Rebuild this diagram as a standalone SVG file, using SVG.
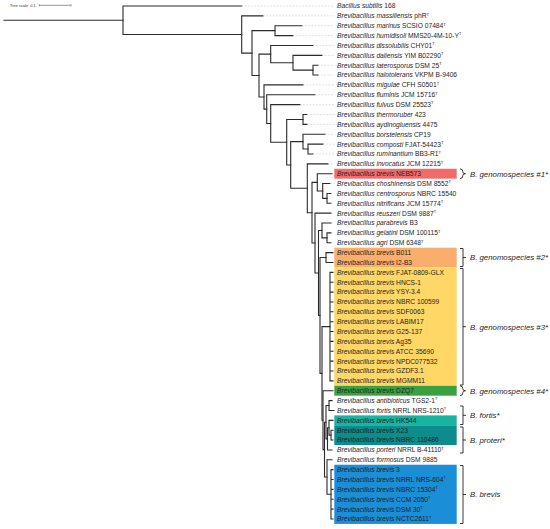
<svg xmlns="http://www.w3.org/2000/svg" width="550" height="529" viewBox="0 0 550 529">
<style>
.e{fill:none;stroke:#2b2b2b;stroke-width:1.1;stroke-linecap:square}
.l{fill:none;stroke:#c4c4c4;stroke-width:0.6;stroke-dasharray:1.6 1.6}
.t{font-family:"Liberation Sans",Arial,sans-serif;font-size:6.7px;fill:#1e1e1e}
.i{font-style:italic}
.s{font-size:4px}
.g{font-family:"Liberation Sans",Arial,sans-serif;font-size:7.8px;font-style:italic;fill:#1e1e1e}
.b{fill:none;stroke:#222;stroke-width:0.9}
.sc{font-family:"Liberation Sans",Arial,sans-serif;font-size:3.9px;fill:#333}
</style>
<rect width="550" height="529" fill="#fff"/>
<g id="scale">
<text class="sc" x="10" y="6.7">Tree scale: 0.1</text>
<path d="M39.3 5.3 H71 M39.3 4.3 V6.3 M71 4.3 V6.3" fill="none" stroke="#555" stroke-width="0.6"/>
</g>
<g id="highlights">
<rect x="334.3" y="168.78" width="122.4" height="9.87" fill="#F26B6B"/>
<rect x="334.3" y="247.7" width="122.4" height="19.73" fill="#FAAE6B"/>
<rect x="334.3" y="267.43" width="122.4" height="118.38" fill="#FED766"/>
<rect x="334.3" y="385.81" width="122.4" height="9.87" fill="#3AA142"/>
<rect x="334.3" y="415.4" width="122.4" height="9.87" fill="#17B3A3"/>
<rect x="334.3" y="425.27" width="122.4" height="19.73" fill="#0E8B8B"/>
<rect x="334.3" y="464.73" width="122.4" height="59.19" fill="#1B8ED8"/>
</g>
<g id="connectors">
<path class="e" d="M4 20.25 H123"/>
<path class="e" d="M241.7 6 H123 V34.49 H241.7"/>
<path class="e" d="M263 15.87 H241.7 V53.11 H252"/>
<path class="e" d="M275 30.67 H252 V75.55 H259"/>
<path class="e" d="M302 25.73 H275 V35.6 H293"/>
<path class="e" d="M270.7 54.1 H259 V97 H264"/>
<path class="e" d="M313 45.46 H270.7 V62.73 H293"/>
<path class="e" d="M322 55.33 H293 V70.13 H313"/>
<path class="e" d="M318 65.19 H313 V75.06 H318"/>
<path class="e" d="M303 84.92 H264 V109.11 H266.7"/>
<path class="e" d="M315 94.79 H266.7 V123.43 H270.7"/>
<path class="e" d="M300 104.65 H270.7 V142.2 H286.7"/>
<path class="e" d="M303 119.45 H286.7 V164.96 H290.7"/>
<path class="e" d="M307 114.52 H303 V124.38 H307"/>
<path class="e" d="M303 141.65 H290.7 V188.27 H307.3"/>
<path class="e" d="M325 134.25 H303 V149.05 H308"/>
<path class="e" d="M323 144.11 H308 V153.98 H313"/>
<path class="e" d="M328 163.84 H307.3 V212.7 H312"/>
<path class="e" d="M317.3 182.34 H312 V243.07 H315"/>
<path class="e" d="M332 173.71 H317.3 V190.97 H322.7"/>
<path class="e" d="M330 183.57 H322.7 V198.37 H327"/>
<path class="e" d="M331 193.44 H327 V203.3 H331"/>
<path class="e" d="M331 213.17 H315 V272.97 H318.5"/>
<path class="e" d="M322 230.43 H318.5 V315.5 H320"/>
<path class="e" d="M331 223.03 H322 V237.83 H327"/>
<path class="e" d="M331 232.9 H327 V242.76 H331"/>
<path class="e" d="M326 257.56 H320 V373.4 H322"/>
<path class="e" d="M333 252.63 H326 V262.49 H333"/>
<path class="e" d="M330 326.6 H322 V420.2 H323"/>
<path class="e" d="M330 272.36 V380.87 M330 272.36 H333 M330 282.22 H333 M330 292.09 H333 M330 301.95 H333 M330 311.82 H333 M330 321.68 H333 M330 331.55 H333 M330 341.41 H333 M330 351.28 H333 M330 361.14 H333 M330 371.01 H333 M330 380.87 H333"/>
<path class="e" d="M333 390.74 H323 V449.6 H324.5"/>
<path class="e" d="M326 422.2 H324.5 V477.05 H327"/>
<path class="e" d="M329 405.5 H326 V438.83 H327.5"/>
<path class="e" d="M332 400.6 H329 V410.47 H334"/>
<path class="e" d="M329 427.73 H327.5 V449.93 H332"/>
<path class="e" d="M333 420.33 H329 V435.13 H331"/>
<path class="e" d="M333 430.2 H331 V440.06 H333"/>
<path class="e" d="M332 459.79 H327 V494.3 H331"/>
<path class="e" d="M331 469.66 V518.98 M331 469.66 H333 M331 479.52 H333 M331 489.39 H333 M331 499.25 H333 M331 509.12 H333 M331 518.98 H333"/>
</g>
<g id="leaves">
<g id="n1"><path class="l" d="M241.7 6 H334.3"/><text class="t" x="337" y="8.4"><tspan class="i">Bacillus subtilis</tspan> 168</text></g>
<g id="n2"><path class="l" d="M263 15.87 H334.3"/><text class="t" x="337" y="18.27"><tspan class="i">Brevibacillus massiliensis</tspan> phR<tspan class="s" dy="-2.6">T</tspan></text></g>
<g id="n3"><path class="l" d="M302 25.73 H334.3"/><text class="t" x="337" y="28.13"><tspan class="i">Brevibacillus marinus</tspan> SCSIO 07484<tspan class="s" dy="-2.6">T</tspan></text></g>
<g id="n4"><path class="l" d="M293 35.6 H334.3"/><text class="t" x="337" y="38"><tspan class="i">Brevibacillus humidisoli</tspan> MMS20-4M-10-Y<tspan class="s" dy="-2.6">T</tspan></text></g>
<g id="n5"><path class="l" d="M313 45.46 H334.3"/><text class="t" x="337" y="47.86"><tspan class="i">Brevibacillus dissolubilis</tspan> CHY01<tspan class="s" dy="-2.6">T</tspan></text></g>
<g id="n6"><path class="l" d="M322 55.33 H334.3"/><text class="t" x="337" y="57.73"><tspan class="i">Brevibacillus daliensis</tspan> YIM B02290<tspan class="s" dy="-2.6">T</tspan></text></g>
<g id="n7"><path class="l" d="M318 65.19 H334.3"/><text class="t" x="337" y="67.59"><tspan class="i">Brevibacillus laterosporus</tspan> DSM 25<tspan class="s" dy="-2.6">T</tspan></text></g>
<g id="n8"><path class="l" d="M318 75.06 H334.3"/><text class="t" x="337" y="77.46"><tspan class="i">Brevibacillus halotolerans</tspan> VKPM B-9406</text></g>
<g id="n9"><path class="l" d="M303 84.92 H334.3"/><text class="t" x="337" y="87.32"><tspan class="i">Brevibacillus migulae</tspan> CFH S0501<tspan class="s" dy="-2.6">T</tspan></text></g>
<g id="n10"><path class="l" d="M315 94.79 H334.3"/><text class="t" x="337" y="97.19"><tspan class="i">Brevibacillus fluminis</tspan> JCM 15716<tspan class="s" dy="-2.6">T</tspan></text></g>
<g id="n11"><path class="l" d="M300 104.65 H334.3"/><text class="t" x="337" y="107.05"><tspan class="i">Brevibacillus fulvus</tspan> DSM 25523<tspan class="s" dy="-2.6">T</tspan></text></g>
<g id="n12"><path class="l" d="M307 114.52 H334.3"/><text class="t" x="337" y="116.92"><tspan class="i">Brevibacillus thermoruber</tspan> 423</text></g>
<g id="n13"><path class="l" d="M307 124.38 H334.3"/><text class="t" x="337" y="126.78"><tspan class="i">Brevibacillus aydinogluensis</tspan> 4475</text></g>
<g id="n14"><path class="l" d="M325 134.25 H334.3"/><text class="t" x="337" y="136.65"><tspan class="i">Brevibacillus borstelensis</tspan> CP19</text></g>
<g id="n15"><path class="l" d="M323 144.11 H334.3"/><text class="t" x="337" y="146.51"><tspan class="i">Brevibacillus composti</tspan> FJAT-54423<tspan class="s" dy="-2.6">T</tspan></text></g>
<g id="n16"><path class="l" d="M313 153.98 H334.3"/><text class="t" x="337" y="156.38"><tspan class="i">Brevibacillus ruminantium</tspan> BB3-R1<tspan class="s" dy="-2.6">T</tspan></text></g>
<g id="n17"><path class="l" d="M328 163.84 H334.3"/><text class="t" x="337" y="166.24"><tspan class="i">Brevibacillus invocatus</tspan> JCM 12215<tspan class="s" dy="-2.6">T</tspan></text></g>
<g id="n18"><text class="t" x="337" y="176.11"><tspan class="i">Brevibacillus brevis</tspan> NEB573</text></g>
<g id="n19"><path class="l" d="M330 183.57 H334.3"/><text class="t" x="337" y="185.97"><tspan class="i">Brevibacillus choshinensis</tspan> DSM 8552<tspan class="s" dy="-2.6">T</tspan></text></g>
<g id="n20"><path class="l" d="M331 193.44 H334.3"/><text class="t" x="337" y="195.84"><tspan class="i">Brevibacillus centrosporus</tspan> NBRC 15540</text></g>
<g id="n21"><path class="l" d="M331 203.3 H334.3"/><text class="t" x="337" y="205.7"><tspan class="i">Brevibacillus nitrificans</tspan> JCM 15774<tspan class="s" dy="-2.6">T</tspan></text></g>
<g id="n22"><path class="l" d="M331 213.17 H334.3"/><text class="t" x="337" y="215.57"><tspan class="i">Brevibacillus reuszeri</tspan> DSM 9887<tspan class="s" dy="-2.6">T</tspan></text></g>
<g id="n23"><path class="l" d="M331 223.03 H334.3"/><text class="t" x="337" y="225.43"><tspan class="i">Brevibacillus parabrevis</tspan> B3</text></g>
<g id="n24"><path class="l" d="M331 232.9 H334.3"/><text class="t" x="337" y="235.3"><tspan class="i">Brevibacillus gelatini</tspan> DSM 100115<tspan class="s" dy="-2.6">T</tspan></text></g>
<g id="n25"><path class="l" d="M331 242.76 H334.3"/><text class="t" x="337" y="245.16"><tspan class="i">Brevibacillus agri</tspan> DSM 6348<tspan class="s" dy="-2.6">T</tspan></text></g>
<g id="n26"><text class="t" x="337" y="255.03"><tspan class="i">Brevibacillus brevis</tspan> B011</text></g>
<g id="n27"><text class="t" x="337" y="264.89"><tspan class="i">Brevibacillus brevis</tspan> I2-B3</text></g>
<g id="n28"><text class="t" x="337" y="274.76"><tspan class="i">Brevibacillus brevis</tspan> FJAT-0809-GLX</text></g>
<g id="n29"><text class="t" x="337" y="284.62"><tspan class="i">Brevibacillus brevis</tspan> HNCS-1</text></g>
<g id="n30"><text class="t" x="337" y="294.49"><tspan class="i">Brevibacillus brevis</tspan> YSY-3.4</text></g>
<g id="n31"><text class="t" x="337" y="304.35"><tspan class="i">Brevibacillus brevis</tspan> NBRC 100599</text></g>
<g id="n32"><text class="t" x="337" y="314.22"><tspan class="i">Brevibacillus brevis</tspan> SDF0063</text></g>
<g id="n33"><text class="t" x="337" y="324.08"><tspan class="i">Brevibacillus brevis</tspan> LABIM17</text></g>
<g id="n34"><text class="t" x="337" y="333.95"><tspan class="i">Brevibacillus brevis</tspan> G25-137</text></g>
<g id="n35"><text class="t" x="337" y="343.81"><tspan class="i">Brevibacillus brevis</tspan> Ag35</text></g>
<g id="n36"><text class="t" x="337" y="353.68"><tspan class="i">Brevibacillus brevis</tspan> ATCC 35690</text></g>
<g id="n37"><text class="t" x="337" y="363.54"><tspan class="i">Brevibacillus brevis</tspan> NPDC077532</text></g>
<g id="n38"><text class="t" x="337" y="373.41"><tspan class="i">Brevibacillus brevis</tspan> GZDF3.1</text></g>
<g id="n39"><text class="t" x="337" y="383.27"><tspan class="i">Brevibacillus brevis</tspan> MGMM11</text></g>
<g id="n40"><text class="t" x="337" y="393.14"><tspan class="i">Brevibacillus brevis</tspan> DZQ7</text></g>
<g id="n41"><text class="t" x="337" y="403"><tspan class="i">Brevibacillus antibioticus</tspan> TGS2-1<tspan class="s" dy="-2.6">T</tspan></text></g>
<g id="n42"><text class="t" x="337" y="412.87"><tspan class="i">Brevibacillus fortis</tspan> NRRL NRS-1210<tspan class="s" dy="-2.6">T</tspan></text></g>
<g id="n43"><text class="t" x="337" y="422.73"><tspan class="i">Brevibacillus brevis</tspan> HK544</text></g>
<g id="n44"><text class="t" x="337" y="432.6"><tspan class="i">Brevibacillus brevis</tspan> X23</text></g>
<g id="n45"><text class="t" x="337" y="442.46"><tspan class="i">Brevibacillus brevis</tspan> NBRC 110486</text></g>
<g id="n46"><text class="t" x="337" y="452.33"><tspan class="i">Brevibacillus porteri</tspan> NRRL B-41110<tspan class="s" dy="-2.6">T</tspan></text></g>
<g id="n47"><text class="t" x="337" y="462.19"><tspan class="i">Brevibacillus formosus</tspan> DSM 9885</text></g>
<g id="n48"><text class="t" x="337" y="472.06"><tspan class="i">Brevibacillus brevis</tspan> 3</text></g>
<g id="n49"><text class="t" x="337" y="481.92"><tspan class="i">Brevibacillus brevis</tspan> NRRL NRS-604<tspan class="s" dy="-2.6">T</tspan></text></g>
<g id="n50"><text class="t" x="337" y="491.79"><tspan class="i">Brevibacillus brevis</tspan> NBRC 15304<tspan class="s" dy="-2.6">T</tspan></text></g>
<g id="n51"><text class="t" x="337" y="501.65"><tspan class="i">Brevibacillus brevis</tspan> CCM 2050<tspan class="s" dy="-2.6">T</tspan></text></g>
<g id="n52"><text class="t" x="337" y="511.52"><tspan class="i">Brevibacillus brevis</tspan> DSM 30<tspan class="s" dy="-2.6">T</tspan></text></g>
<g id="n53"><text class="t" x="337" y="521.38"><tspan class="i">Brevibacillus brevis</tspan> NCTC2611<tspan class="s" dy="-2.6">T</tspan></text></g>
</g>
<g id="groups">
<g id="gs1"><path class="b" d="M460 168.9 Q462.8 168.9 462.8 171.4 V171.9 Q462.8 173.7 465.5 173.7 Q462.8 173.7 462.8 175.5 V176 Q462.8 178.5 460 178.5"/><text class="g" x="470" y="176.5">B. genomospecies #1*</text></g>
<g id="gs2"><path class="b" d="M460 248.5 H463 V266.5 H460 M463 257.5 H466"/><text class="g" x="470" y="260.3">B. genomospecies #2*</text></g>
<g id="gs3"><path class="b" d="M460 268.5 H463 V385 H460 M463 326.7 H466"/><text class="g" x="470" y="329.5">B. genomospecies #3*</text></g>
<g id="gs4"><path class="b" d="M460 385.9 Q462.8 385.9 462.8 388.4 V388.95 Q462.8 390.75 465.5 390.75 Q462.8 390.75 462.8 392.55 V393.1 Q462.8 395.6 460 395.6"/><text class="g" x="470" y="393.5">B. genomospecies #4*</text></g>
<g id="gfortis"><path class="b" d="M460 406 H463 V424.5 H460 M463 415.3 H466"/><text class="g" x="470" y="418">B. fortis*</text></g>
<g id="gproteri"><path class="b" d="M460 427 H463 V453 H460 M463 440 H466"/><text class="g" x="470" y="442.8">B. proteri*</text></g>
<g id="gbrevis"><path class="b" d="M460 465.5 H463 V523.5 H460 M463 494.5 H466"/><text class="g" x="470" y="497.3">B. brevis</text></g>
</g>
</svg>
